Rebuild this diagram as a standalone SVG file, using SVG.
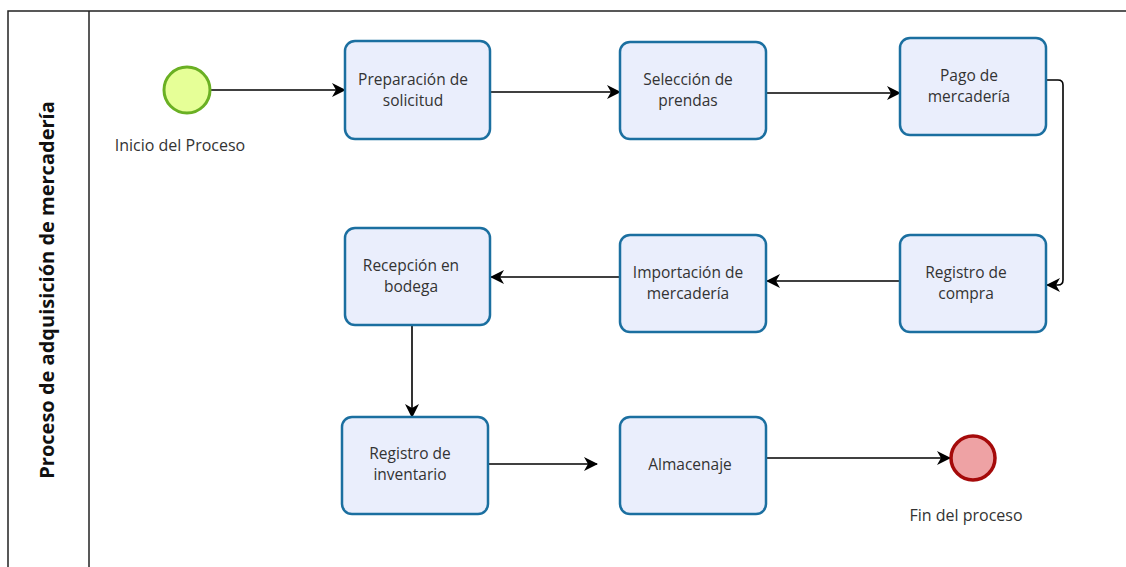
<svg xmlns="http://www.w3.org/2000/svg" width="1126" height="567" viewBox="0 0 1126 567">
<defs>
<style>
.task rect{fill:#eaeefc;stroke:#1b6fa0;stroke-width:2.5}
.t{font-family:"Open Sans","Noto Sans",sans-serif;font-size:15.5px;fill:#333;text-anchor:middle}
.lbl{font-family:"Open Sans","Noto Sans",sans-serif;font-size:16px;fill:#333;text-anchor:middle}
.c{fill:none;stroke:#000;stroke-width:1.6}
</style>
<marker id="a" viewBox="0 0 14 14" refX="13" refY="7" markerWidth="14" markerHeight="14" markerUnits="userSpaceOnUse" orient="auto">
<path d="M0,0 L14,7 L0,14 L4,7 Z" fill="#000"/>
</marker>
</defs>
<rect width="1126" height="567" fill="#fff"/>
<g id="pool">
<rect x="8" y="11" width="1130" height="570" fill="none" stroke="#222" stroke-width="1.5"/>
<line x1="89" y1="11" x2="89" y2="567" stroke="#222" stroke-width="1.5"/>
<text transform="translate(54,290) rotate(-90)" font-family="'Open Sans','Noto Sans',sans-serif" font-size="20" font-weight="bold" fill="#111" text-anchor="middle">Proceso de adquisición de mercadería</text>
</g>
<g id="connectors">
<path class="c" d="M211,90 H345" marker-end="url(#a)"/>
<path class="c" d="M490,92 H620" marker-end="url(#a)"/>
<path class="c" d="M766,93 H900" marker-end="url(#a)"/>
<path class="c" d="M1046,80 H1058 Q1063,80 1063,85 V280 Q1063,285 1058,285 H1047" marker-end="url(#a)"/>
<path class="c" d="M900,281 H767" marker-end="url(#a)"/>
<path class="c" d="M620,277 H491" marker-end="url(#a)"/>
<path class="c" d="M412,325 V417" marker-end="url(#a)"/>
<path class="c" d="M488,464 H597" marker-end="url(#a)"/>
<path class="c" d="M766,458 H950" marker-end="url(#a)"/>
</g>
<g id="start">
<circle cx="187" cy="90" r="23" fill="#e6ff97" stroke="#6ab023" stroke-width="3"/>
<text class="lbl" x="180" y="151">Inicio del Proceso</text>
</g>
<g id="task1" class="task">
<rect x="345" y="41" width="145" height="98" rx="10"/>
<text class="t" x="413" y="85">Preparación de</text>
<text class="t" x="413" y="106">solicitud</text>
</g>
<g id="task2" class="task">
<rect x="620" y="42" width="146" height="97" rx="10"/>
<text class="t" x="688" y="85">Selección de</text>
<text class="t" x="688" y="106">prendas</text>
</g>
<g id="task3" class="task">
<rect x="900" y="38" width="146" height="97" rx="10"/>
<text class="t" x="969" y="81">Pago de</text>
<text class="t" x="969" y="102">mercadería</text>
</g>
<g id="task4" class="task">
<rect x="900" y="235" width="146" height="97" rx="10"/>
<text class="t" x="966" y="278">Registro de</text>
<text class="t" x="966" y="299">compra</text>
</g>
<g id="task5" class="task">
<rect x="620" y="235" width="146" height="97" rx="10"/>
<text class="t" x="688" y="278">Importación de</text>
<text class="t" x="688" y="299">mercadería</text>
</g>
<g id="task6" class="task">
<rect x="345" y="228" width="145" height="97" rx="10"/>
<text class="t" x="411" y="271">Recepción en</text>
<text class="t" x="411" y="292">bodega</text>
</g>
<g id="task7" class="task">
<rect x="342" y="417" width="146" height="97" rx="10"/>
<text class="t" x="410" y="459">Registro de</text>
<text class="t" x="410" y="480">inventario</text>
</g>
<g id="task8" class="task">
<rect x="620" y="417" width="146" height="97" rx="10"/>
<text class="t" x="690" y="470">Almacenaje</text>
</g>
<g id="end">
<circle cx="973" cy="458" r="22" fill="#eea2a4" stroke="#a50a0a" stroke-width="3.5"/>
<text class="lbl" x="966" y="521">Fin del proceso</text>
</g>
</svg>
